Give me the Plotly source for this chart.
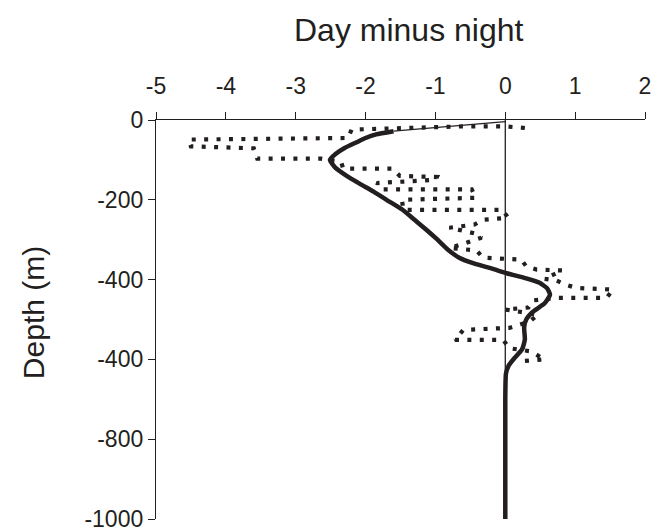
import plotly.graph_objects as go

# ---- data ----
x_tick_vals = [-5, -4, -3, -2, -1, 0, 1, 2]
x_tick_text = ["-5", "-4", "-3", "-2", "-1", "0", "1", "2"]
y_tick_vals = [0, -200, -400, -600, -800, -1000]
y_tick_text = ["0", "-200", "-400", "-400", "-800", "-1000"]

# dotted profile (observed day minus night)
obs_x = [0.28, 0.0, -0.6, -1.3, -2.2, -2.25, -4.53, -4.50, -3.60, -3.55, -2.64, -2.35,
         -2.32, -1.61, -1.51, -0.98, -1.00, -1.84, -1.75, -0.48, -0.42, -1.48, -1.46,
         -0.04, 0.04, -0.32, -0.44, -0.80, -0.42, -0.34, -0.66, -0.79, -0.41, -0.32,
         0.23, 0.30, 0.45, 0.82, 0.56, 0.73, 0.87, 1.02, 1.54, 1.45, 0.75, 0.40, 0.33,
         0.0, 0.47, 0.35, 0.06, -0.60, -0.72, -0.03, 0.06, 0.37, 0.56, 0.18]
obs_depth = [-20, -16, -16, -20, -24, -45, -49, -66, -71, -97, -97, -105,
             -122, -122, -140, -143, -150, -158, -174, -174, -195, -200, -225,
             -225, -245, -250, -262, -270, -285, -295, -312, -321, -327, -345,
             -350, -367, -375, -377, -398, -402, -413, -421, -425, -446, -446, -452, -470,
             -475, -488, -505, -521, -526, -551, -551, -572, -580, -600, -605]

# smooth fitted curve
fit_x = [-1.60, -1.85, -2.00, -2.12, -2.30, -2.43, -2.51, -2.43, -2.27, -2.08, -1.88,
         -1.70, -1.47, -1.30, -1.13, -0.97, -0.82, -0.66, -0.44, -0.20, 0.02, 0.30,
         0.49, 0.60, 0.64, 0.56, 0.40, 0.30, 0.27, 0.28, 0.24, 0.14, 0.05, 0.01, 0.0, 0.0]
fit_depth = [-28, -36, -45, -55, -70, -85, -100, -120, -140, -160, -180,
             -200, -225, -250, -275, -300, -325, -345, -360, -372, -384, -397,
             -408, -422, -438, -460, -480, -500, -520, -550, -575, -595, -615, -635, -700, -1000]

# thin surface segment of the fit
surf_x = [0.0, -1.6]
surf_depth = [-4, -28]

FONT = "Liberation Sans, Arial, Helvetica, sans-serif"
INK = "#231f20"

fig = go.Figure()
fig.add_trace(go.Scatter(x=obs_x, y=obs_depth, mode="lines",
                         line=dict(color=INK, width=4.2, dash="4px,8.4px"),
                         showlegend=False, hoverinfo="skip"))
fig.add_trace(go.Scatter(x=surf_x, y=surf_depth, mode="lines",
                         line=dict(color=INK, width=1.3),
                         showlegend=False, hoverinfo="skip"))
fig.add_trace(go.Scatter(x=fit_x, y=fit_depth, mode="lines",
                         line=dict(color=INK, width=4.5, shape="spline", smoothing=0.5),
                         showlegend=False, hoverinfo="skip"))

fig.add_shape(type="line", x0=0, x1=0, y0=0, y1=-1000, xref="x", yref="y",
              line=dict(color=INK, width=1.3), layer="below")

fig.update_layout(
    width=657, height=528,
    margin=dict(l=156, r=12, t=120, b=9),
    paper_bgcolor="white", plot_bgcolor="white",
    font=dict(family=FONT, color=INK, size=22),
    xaxis=dict(range=[-5, 2], side="top", tickvals=x_tick_vals, ticktext=x_tick_text,
               ticks="outside", ticklen=7, tickwidth=1.3, tickcolor=INK,
               showline=True, linecolor=INK, linewidth=1.3,
               showgrid=False, zeroline=False, ticklabelstandoff=9,
               ticklabeloverflow="allow", automargin=False,
               tickfont=dict(size=23, family=FONT, color=INK)),
    yaxis=dict(range=[-1000, 0], tickvals=y_tick_vals, ticktext=y_tick_text,
               ticks="outside", ticklen=7, tickwidth=1.3, tickcolor=INK,
               showline=True, linecolor=INK, linewidth=1.3,
               showgrid=False, zeroline=False, ticklabeloverflow="allow",
               automargin=False,
               tickfont=dict(size=23, family=FONT, color=INK)),
    annotations=[
        dict(text="Day minus night", x=0.517, y=1.225, xref="paper", yref="paper",
             xanchor="center", yanchor="middle", showarrow=False,
             font=dict(size=32, family=FONT, color=INK)),
        dict(text="Depth (m)", x=-0.2515, y=0.516, xref="paper", yref="paper",
             xanchor="center", yanchor="middle", showarrow=False, textangle=-90,
             font=dict(size=30, family=FONT, color=INK)),
    ],
)

fig.write_html("out.html")
